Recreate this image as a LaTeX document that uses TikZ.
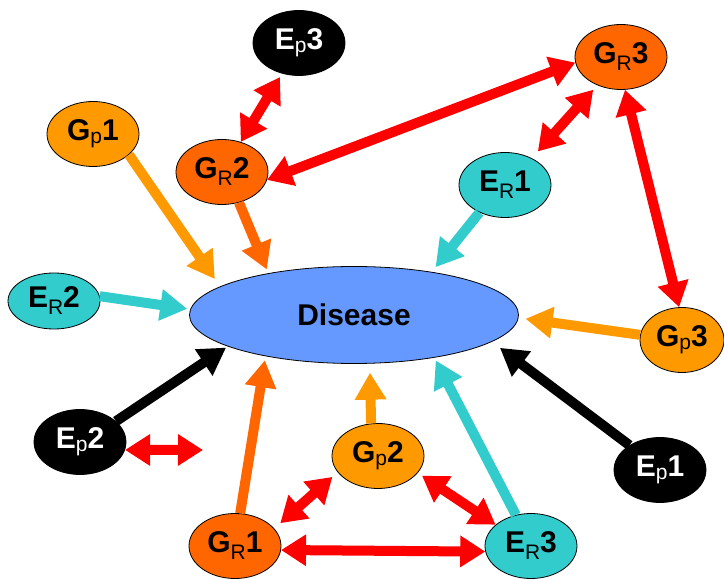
\documentclass[tikz,border=0pt]{standalone}
\usepackage{fontspec}
\setmainfont{Liberation Sans}
\usetikzlibrary{shapes.geometric,arrows.meta}
\definecolor{gpcol}{HTML}{FF9900}
\definecolor{grcol}{HTML}{FF6600}
\definecolor{ercol}{HTML}{33CCCC}
\definecolor{discol}{HTML}{6699FF}
\newcommand\subR{\raisebox{-7pt}{\mdseries\fontsize{21}{21}\selectfont R}}
\newcommand\subp{\raisebox{-3pt}{\mdseries\fontsize{21}{21}\selectfont p}}

\begin{document}
\begin{tikzpicture}[x=1pt, y=1pt,
	main/.style = {draw, ellipse, line width=0.8pt, minimum width=92pt, minimum height=65pt, inner sep=0pt, font=\bfseries\fontsize{30}{32}\selectfont},
	gp/.style = {main, fill=gpcol}, gr/.style = {main, fill=grcol},
	er/.style = {main, fill=ercol}, ep/.style = {main, fill=black, text=white},
	arr/.style = {line width=10pt, -{Triangle[length=27pt,width=30pt]}},
	both/.style = {red, line width=10pt, {Triangle[length=25pt,width=30pt]}-{Triangle[length=25pt,width=30pt]}}]
			\useasboundingbox (0,0) rectangle (724,579);
			\node[main, fill=discol, minimum width=329pt, minimum height=97pt] (D) at (354,264) {Disease};
			\node[ep] (Ep3) at (299,536) {E\subp3};
			\node[gp] (Gp1) at (93,445) {G\subp1};
			\node[gr] (GR2) at (222,407) {G\subR2};
			\node[gr] (GR3) at (621,522) {G\subR3};
			\node[er] (ER1) at (505,394) {E\subR1};
			\node[er, minimum height=56pt] (ER2) at (54,278) {E\subR2};
			\node[gp, minimum width=84pt] (Gp3) at (682,239) {G\subp3};
			\node[ep] (Ep2) at (80,137) {E\subp2};
			\node[ep] (Ep1) at (660,109) {E\subp1};
			\node[gp] (Gp2) at (378,123) {G\subp2};
			\node[gr] (GR1) at (235,33) {G\subR1};
			\node[er] (ER3) at (531,33) {E\subR3};
			\coordinate (x) at (203,129);
			% links
			\draw[both, shorten <=4pt] (Ep3.-119) -- (GR2.58);
			\draw[both] (GR2.-10) -- (GR3.187);
			\draw[both, shorten <=6pt, shorten >=9pt] (GR3.-130) -- (ER1.45);
			\draw[both] (GR3.-83) -- (Gp3.95);
			\draw[both] (Ep2.-10) -- (x);
			\draw[both, shorten <=8pt, shorten >=7pt] (GR1.24) -- (Gp2.202);
			\draw[both, shorten <=5pt] (Gp2.-23) -- (ER3.149);
			\draw[both] (GR1.-5) -- (ER3.187);
			% into the disease
			\draw[arr, gpcol, shorten >=9pt] (Gp1.-30) -- (D.168);
			\draw[arr, grcol, shorten >=4pt] (GR2.-61) -- (D.154);
			\draw[arr, ercol, shorten >=6pt] (ER1.-133) -- (D.29);
			\draw[arr, ercol, shorten >=3pt] (ER2.6) -- (D.178);
			\draw[arr, gpcol, shorten >=7pt] (Gp3.173) -- (D.-1);
			\draw[arr, black, shorten >=10pt] (Ep1.141) -- (D.-11);
			\draw[arr, ercol, shorten >=3pt] (ER3.116) -- (D.-28);
			\draw[arr, gpcol, shorten >=9pt] (Gp2.102) -- (D.-72);
			\draw[arr, grcol, shorten >=4pt] (GR1.81) -- (D.205);
			\draw[arr, black, shorten >=2pt] (Ep2.30) -- (D.194);
		\end{tikzpicture}
\end{document}
